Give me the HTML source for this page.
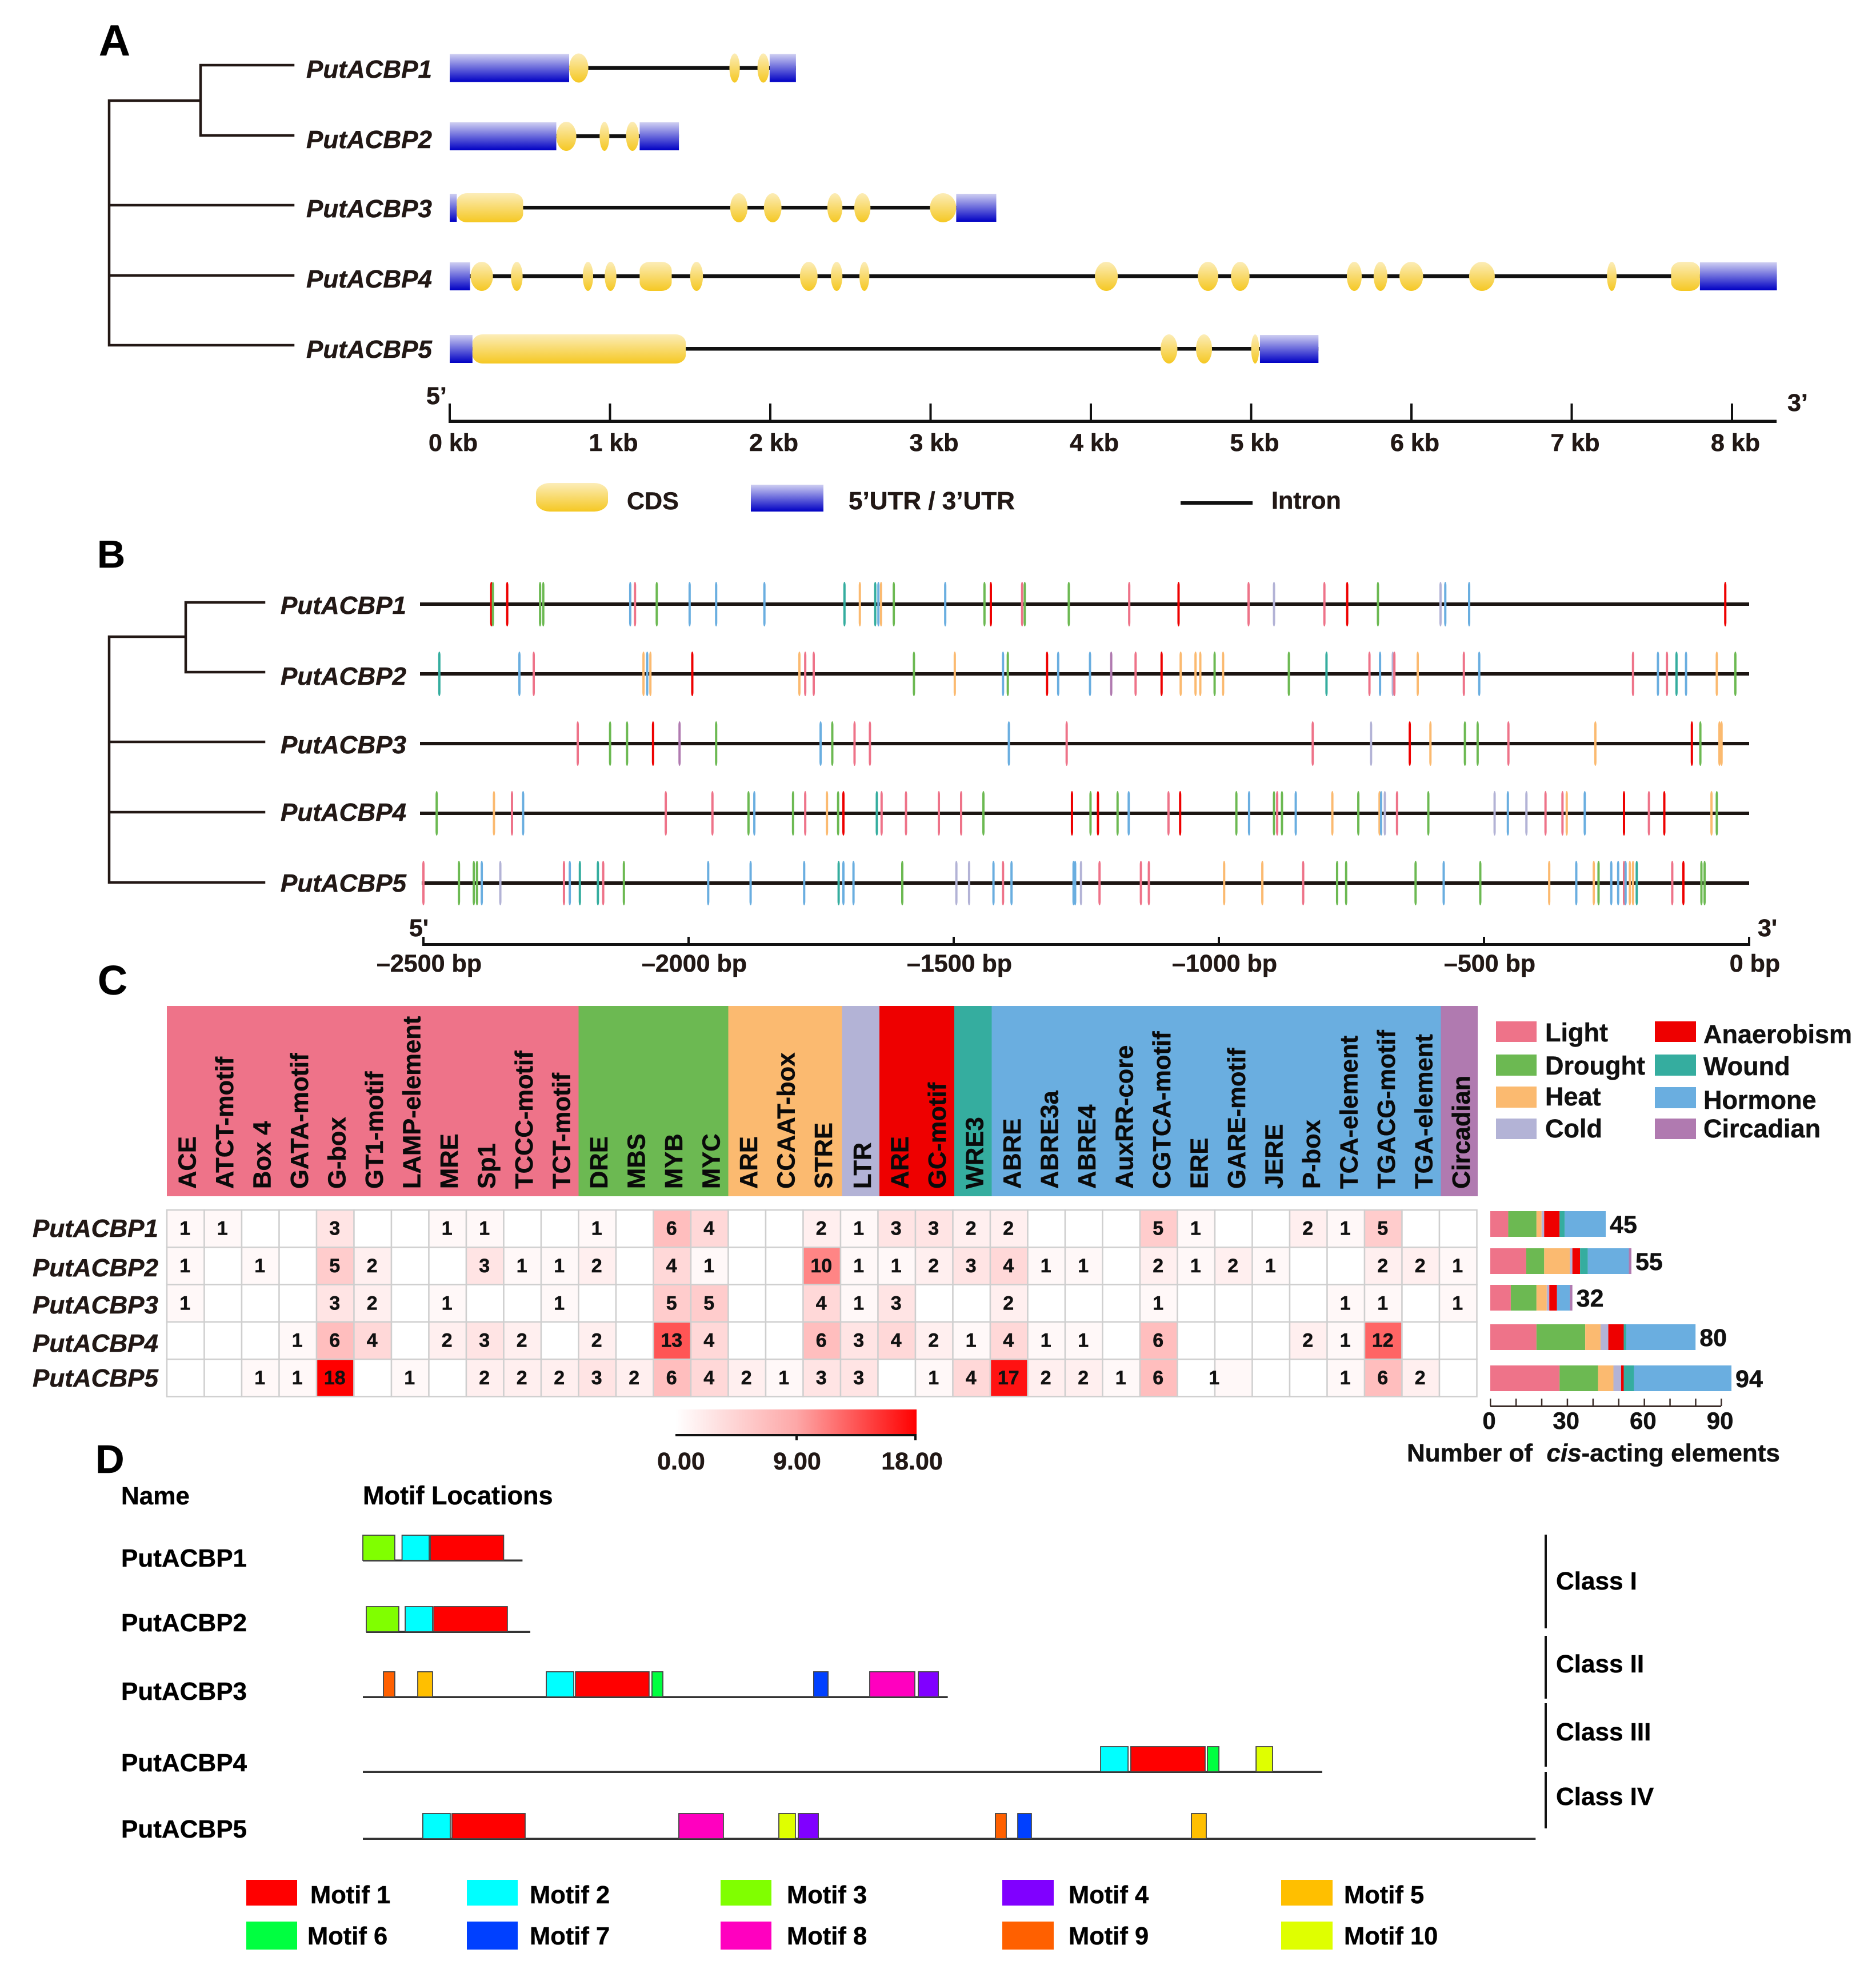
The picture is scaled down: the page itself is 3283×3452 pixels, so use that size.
<!DOCTYPE html>
<html lang="en">
<head>
<meta charset="utf-8">
<title>PutACBP gene family figure</title>
<style>
html,body{margin:0;padding:0;background:#fff;}
svg{display:block;font-family:"Liberation Sans",Arial,sans-serif;font-weight:bold;fill:#111;}
svg text{stroke:#111;stroke-width:.5px;}
.nm{font-size:44px;font-style:italic;fill:#231815;}
.ax{font-size:43px;fill:#231815;}
.lg{font-size:45px;}
.mo{font-size:43.5px;fill:#000;}
.na{font-size:44px;fill:#000;}
.tr{fill:none;stroke:#231815;stroke-width:4.5;stroke-linecap:square;}
</style>
</head>
<body>
<svg id="figure" xmlns="http://www.w3.org/2000/svg" width="3283" height="3452" viewBox="0 0 3283 3452">
<defs>
<linearGradient id="cdsGrad" x1="0" y1="0" x2="0" y2="1"><stop offset="0" stop-color="#fcedb8"/><stop offset="1" stop-color="#f5c823"/></linearGradient>
<linearGradient id="utrGrad" x1="0" y1="0" x2="0" y2="1"><stop offset="0" stop-color="#cfcff2"/><stop offset="1" stop-color="#0000c4"/></linearGradient>
<linearGradient id="heatGrad" x1="0" y1="0" x2="1" y2="0"><stop offset="0" stop-color="#ffffff"/><stop offset="0.5" stop-color="#fda8a8"/><stop offset="1" stop-color="#ff0000"/></linearGradient>
</defs>
<rect x="0" y="0" width="3283" height="3452" fill="#fff"/>

<!-- Panel A -->
<text x="173" y="97" font-size="76" fill="#000">A</text>
<path class="tr" d="M191 176V604M191 176H351M351 114V237M351 114H513M351 237H513M191 359H513M191 482H513M191 604H513"/>
<text class="nm" x="536" y="136">PutACBP1</text>
<text class="nm" x="536" y="259">PutACBP2</text>
<text class="nm" x="536" y="380">PutACBP3</text>
<text class="nm" x="536" y="503">PutACBP4</text>
<text class="nm" x="536" y="626">PutACBP5</text>
<g id="gene-row-0" transform="translate(0,118.5)"></g>
<g id="gene-row-1" transform="translate(0,238)"></g>
<g id="gene-row-2" transform="translate(0,363)"></g>
<g id="gene-row-3" transform="translate(0,483)"></g>
<g id="gene-row-4" transform="translate(0,610)"></g>
<g id="kb-axis"></g>
<text class="ax" x="746" y="707">5’</text>
<text class="ax" x="3128" y="719">3’</text>
<rect x="938" y="845" width="126" height="50" rx="24" ry="18" fill="url(#cdsGrad)"/>
<text class="ax" x="1097" y="891">CDS</text>
<rect x="1314" y="848" width="127" height="47" fill="url(#utrGrad)"/>
<text class="ax" x="1485" y="891" font-size="44" style="font-size:44px">5’UTR / 3’UTR</text>
<rect x="2066" y="877" width="126" height="6" fill="#111"/>
<text class="ax" x="2225" y="890">Intron</text>

<!-- Panel B -->
<text x="170" y="993" font-size="68" fill="#000">B</text>
<path class="tr" d="M191 1114V1544M191 1114H325M325 1054V1176M325 1054H462M325 1176H462M191 1298H462M191 1421H462M191 1544H462"/>
<text class="nm" x="491" y="1074">PutACBP1</text>
<text class="nm" x="491" y="1198">PutACBP2</text>
<text class="nm" x="491" y="1318">PutACBP3</text>
<text class="nm" x="491" y="1436">PutACBP4</text>
<text class="nm" x="491" y="1560">PutACBP5</text>
<g id="promoter-rows"></g>
<g id="bp-axis"></g>
<text class="ax" x="716" y="1638">5'</text>
<text class="ax" x="3076" y="1638">3'</text>

<!-- Panel C -->
<text x="171" y="1740" font-size="72" fill="#000">C</text>
<g id="heat-header"></g>
<g id="heatmap"></g>
<text class="nm" x="277" y="2164" text-anchor="end">PutACBP1</text>
<text class="nm" x="277" y="2233" text-anchor="end">PutACBP2</text>
<text class="nm" x="277" y="2298" text-anchor="end">PutACBP3</text>
<text class="nm" x="277" y="2365" text-anchor="end">PutACBP4</text>
<text class="nm" x="277" y="2426" text-anchor="end">PutACBP5</text>

<g>
<rect x="2618" y="1787" width="71" height="36" fill="#ee7389"/>
<text class="lg" x="2704" y="1822">Light</text>
<rect x="2618" y="1845" width="71" height="37" fill="#6cb952"/>
<text class="lg" x="2704" y="1880">Drought</text>
<rect x="2618" y="1901" width="71" height="37" fill="#fbba70"/>
<text class="lg" x="2704" y="1934">Heat</text>
<rect x="2618" y="1957" width="71" height="36" fill="#b3b3d6"/>
<text class="lg" x="2704" y="1990">Cold</text>
<rect x="2896" y="1787" width="72" height="36" fill="#ee0000"/>
<text class="lg" x="2981" y="1825">Anaerobism</text>
<rect x="2896" y="1845" width="72" height="37" fill="#35ad9f"/>
<text class="lg" x="2981" y="1881">Wound</text>
<rect x="2896" y="1902" width="72" height="37" fill="#6aaee0"/>
<text class="lg" x="2981" y="1940">Hormone</text>
<rect x="2896" y="1957" width="72" height="36" fill="#b07ab0"/>
<text class="lg" x="2981" y="1990">Circadian</text>
</g>

<g id="bar-row-0" transform="translate(2608,2119)"></g>
<g id="bar-row-1" transform="translate(2608,2184)"></g>
<g id="bar-row-2" transform="translate(2608,2248)"></g>
<g id="bar-row-3" transform="translate(2608,2317)"></g>
<g id="bar-row-4" transform="translate(2608,2389)"></g>
<g id="bar-axis"></g>
<text x="2462" y="2557" font-size="44" fill="#111" xml:space="preserve">Number of  <tspan font-style="italic">cis</tspan>-acting elements</text>

<rect x="1182" y="2466" width="422" height="43" fill="url(#heatGrad)"/>
<path d="M1182 2511H1604M1394 2511V2520M1602 2511V2520" stroke="#111" stroke-width="4" fill="none"/>
<text class="ax" x="1192" y="2571" text-anchor="middle">0.00</text>
<text class="ax" x="1395" y="2571" text-anchor="middle">9.00</text>
<text class="ax" x="1596" y="2571" text-anchor="middle">18.00</text>

<!-- Panel D -->
<text x="167" y="2577" font-size="70" fill="#000">D</text>
<text class="na" x="212" y="2632">Name</text>
<text class="na" x="635" y="2632" style="font-size:45px">Motif Locations</text>
<text class="na" x="212" y="2741">PutACBP1</text>
<text class="na" x="212" y="2854">PutACBP2</text>
<text class="na" x="212" y="2974">PutACBP3</text>
<text class="na" x="212" y="3099">PutACBP4</text>
<text class="na" x="212" y="3215">PutACBP5</text>
<g id="motif-row-0" transform="translate(635,2730)"></g>
<g id="motif-row-1" transform="translate(641,2855)"></g>
<g id="motif-row-2" transform="translate(635,2969)"></g>
<g id="motif-row-3" transform="translate(635,3100)"></g>
<g id="motif-row-4" transform="translate(635,3217)"></g>

<rect x="2703" y="2685" width="4" height="164" fill="#111"/>
<rect x="2703" y="2862" width="4" height="110" fill="#111"/>
<rect x="2703" y="2980" width="4" height="111" fill="#111"/>
<rect x="2703" y="3100" width="4" height="99" fill="#111"/>
<text class="na" x="2723" y="2781">Class I</text>
<text class="na" x="2723" y="2926">Class II</text>
<text class="na" x="2723" y="3045">Class III</text>
<text class="na" x="2723" y="3158">Class IV</text>

<g>
<rect x="431" y="3289" width="89" height="45" fill="#ff0000"/>
<text class="mo" x="543" y="3330">Motif 1</text>
<rect x="431" y="3362" width="89" height="49" fill="#00ff40"/>
<text class="mo" x="538" y="3402">Motif 6</text>
<rect x="817" y="3289" width="89" height="45" fill="#00ffff"/>
<text class="mo" x="927" y="3330">Motif 2</text>
<rect x="817" y="3362" width="89" height="49" fill="#0040ff"/>
<text class="mo" x="927" y="3402">Motif 7</text>
<rect x="1261" y="3289" width="89" height="45" fill="#80ff00"/>
<text class="mo" x="1377" y="3330">Motif 3</text>
<rect x="1261" y="3362" width="89" height="49" fill="#ff00bf"/>
<text class="mo" x="1377" y="3402">Motif 8</text>
<rect x="1754" y="3289" width="90" height="45" fill="#8000ff"/>
<text class="mo" x="1870" y="3330">Motif 4</text>
<rect x="1754" y="3362" width="90" height="49" fill="#ff6000"/>
<text class="mo" x="1870" y="3402">Motif 9</text>
<rect x="2242" y="3289" width="90" height="45" fill="#ffbf00"/>
<text class="mo" x="2352" y="3330">Motif 5</text>
<rect x="2242" y="3362" width="90" height="49" fill="#dfff00"/>
<text class="mo" x="2352" y="3402">Motif 10</text>
</g>
</svg>

<script>
// ---------- Panel A data (kb) ----------
const geneLengthsKb = [2.16, 1.43, 3.41, 8.28, 5.42];
const utrKb = [
  [[0,.745],[1.996,2.16]],
  [[0,.665],[1.185,1.43]],
  [[0,.044],[3.16,3.41]],
  [[0,.127],[7.80,8.28]],
  [[0,.142],[5.055,5.42]]
];
const cdsKb = [
  [[.745,.865],[1.745,1.81],[1.92,1.993]],
  [[.665,.79],[.935,.996],[1.10,1.18]],
  [[.044,.458],[1.75,1.858],[1.96,2.07],[2.356,2.45],[2.524,2.625],[2.996,3.16]],
  [[.13,.27],[.382,.455],[.83,.895],[.967,1.04],[1.185,1.385],[1.50,1.58],[2.185,2.295],[2.378,2.45],[2.556,2.618],[4.025,4.168],[4.667,4.795],[4.874,4.99],[5.597,5.69],[5.764,5.85],[5.925,6.073],[6.36,6.52],[7.22,7.28],[7.62,7.80]],
  [[.142,1.473],[4.435,4.54],[4.656,4.756],[5.0,5.05]]
];
const kbTicks = [0,1,2,3,4,5,6,7,8];

// ---------- Panel B data (bp upstream, type code per site) ----------
const promoterSites = [
  [-2372,-2369,-2342,-2280,-2274,-2110,-2101,-2060,-1998,-1948,-1857,-1706,-1677,-1648,-1642,-1637,-1613,-1516,-1442,-1430,-1371,-1366,-1283,-1169,-1076,-944,-896,-801,-758,-700,-582,-573,-528,-45],
  [-2470,-2319,-2292,-2085,-2078,-2072,-1993,-1791,-1780,-1764,-1575,-1498,-1407,-1398,-1324,-1303,-1243,-1203,-1157,-1108,-1072,-1044,-1035,-1008,-992,-868,-797,-716,-696,-672,-669,-625,-538,-509,-219,-172,-155,-137,-119,-61,-26],
  [-2209,-2148,-2116,-2067,-2017,-1948,-1751,-1729,-1687,-1658,-1396,-1287,-823,-713,-640,-601,-536,-512,-454,-290,-108,-92,-56,-52],
  [-2475,-2367,-2333,-2312,-2043,-1955,-1887,-1876,-1803,-1780,-1739,-1718,-1708,-1645,-1636,-1590,-1528,-1486,-1444,-1277,-1242,-1228,-1191,-1170,-1095,-1073,-967,-943,-896,-890,-881,-855,-786,-737,-697,-694,-687,-664,-605,-480,-455,-420,-384,-352,-344,-310,-236,-189,-160,-71,-61],
  [-2500,-2433,-2405,-2399,-2390,-2355,-2235,-2224,-2205,-2171,-2161,-2122,-1963,-1883,-1782,-1717,-1708,-1689,-1597,-1495,-1471,-1425,-1407,-1391,-1274,-1271,-1260,-1225,-1147,-1132,-990,-918,-841,-777,-760,-629,-576,-507,-377,-326,-293,-284,-260,-247,-236,-233,-225,-219,-212,-145,-124,-90,-84]
];
const promoterTypes = [
  "ADADDOLDOOOWHWOHDODALDDLALCLADCOOA",
  "WOLHOHAHLLDHODAOORLAHHHDHDWLOCLHLOLOLWOHD",
  "LDDARDODLLOLLCAHDDLHADHH",
  "DHLOLLDODLHDAWLLLLDADADOLADODLDOHDHOCLDCOCLLHOALAHD",
  "LDDDOCLOWWLDOOOWOODCCOLOOOCLLLHHLDDDODHOHDOOLOHHWLADD"
];
const categoryCodes = ["L","D","H","C","A","W","O","R"];
const categoryColors = ["#ee7389","#6cb952","#fbba70","#b3b3d6","#ee0000","#35ad9f","#6aaee0","#b07ab0"];
const bpTicks = [-2500,-2000,-1500,-1000,-500,0];
const bpTickLabels = ["–2500 bp","–2000 bp","–1500 bp","–1000 bp","–500 bp","0 bp"];

// ---------- Panel C data ----------
const elementNames = ["ACE","ATCT-motif","Box 4","GATA-motif","G-box","GT1-motif","LAMP-element","MRE","Sp1","TCCC-motif","TCT-motif","DRE","MBS","MYB","MYC","ARE","CCAAT-box","STRE","LTR","ARE","GC-motif","WRE3","ABRE","ABRE3a","ABRE4","AuxRR-core","CGTCA-motif","ERE","GARE-motif","JERE","P-box","TCA-element","TGACG-motif","TGA-element","Circadian"];
const elementCategories = "LLLLLLLLLLLDDDDHHHCAAWOOOOOOOOOOOOR";
const elementCounts = [
  [1,1,0,0,3,0,0,1,1,0,0,1,0,6,4,0,0,2,1,3,3,2,2,0,0,0,5,1,0,0,2,1,5,0,0],
  [1,0,1,0,5,2,0,0,3,1,1,2,0,4,1,0,0,10,1,1,2,3,4,1,1,0,2,1,2,1,0,0,2,2,1],
  [1,0,0,0,3,2,0,1,0,0,1,0,0,5,5,0,0,4,1,3,0,0,2,0,0,0,1,0,0,0,0,1,1,0,1],
  [0,0,0,1,6,4,0,2,3,2,0,2,0,13,4,0,0,6,3,4,2,1,4,1,1,0,6,0,0,0,2,1,12,0,0],
  [0,0,1,1,18,0,1,0,2,2,2,3,2,6,4,2,1,3,3,0,1,4,17,2,2,1,6,0,1,0,0,1,6,2,0]
];
const barTicks = [0,10,20,30,40,50,60,70,80,90];
const barTickLabels = ["0","","","30","","","60","","","90"];

// ---------- Panel D data (amino-acid positions) ----------
const proteinLengths = [110,113,403,661,808];
const motifIds = [
  [3,2,1],
  [3,2,1],
  [9,5,2,1,6,7,8,4],
  [2,1,6,10],
  [2,1,8,10,4,9,7,5]
];
const motifStarts = [
  [0,27,46.5],
  [0,26.8,46.5],
  [14.2,37.8,126.4,146.5,199.2,310.6,349.2,382.7],
  [508.3,529.1,581.9,615.4],
  [41.3,61.4,217.7,286.6,300,435.8,451.2,570.9]
];
const motifEnds = [
  [22,45.7,97],
  [22.4,45.7,97.2],
  [22,48,145.3,197.2,206.7,320.5,380.3,396.5],
  [527.2,580.3,589.8,626.8],
  [60.2,111.8,248.4,298,313.8,443.3,460.6,581.1]
];
const motifColors = {1:"#ff0000",2:"#00ffff",3:"#80ff00",4:"#8000ff",5:"#ffbf00",6:"#00ff40",7:"#0040ff",8:"#ff00bf",9:"#ff6000",10:"#dfff00"};

// ---------- helpers ----------
const NS = "http://www.w3.org/2000/svg";
function mk(parent, tag, attrs, text) {
  const el = document.createElementNS(NS, tag);
  for (const k in attrs) el.setAttribute(k, attrs[k]);
  if (text !== undefined) el.textContent = text;
  parent.appendChild(el);
  return el;
}
const xKb = kb => 787 + 280.5 * kb;
const xBp = bp => 3061 + 0.928 * bp;
const xBar = n => 4.49 * n;
const xAa = aa => 2.54 * aa;
const heatColor = v => {
  const g = Math.round(255 * (1 - Math.pow(v / 18, 1.25)));
  return "rgb(255," + g + "," + g + ")";
};
const $ = id => document.getElementById(id);

// ---------- Panel A ----------
geneLengthsKb.forEach((len, i) => {
  const g = $("gene-row-" + i);
  const intron = mk(g, "rect", {x: xKb(0), y: -3, width: xKb(len) - xKb(0), height: 6.5, fill: "#111"});
  
  
  utrKb[i].forEach(s => {
    const r = mk(g, "rect", {x: xKb(s[0]), y: -24, width: xKb(s[1]) - xKb(s[0]), height: 49, fill: "url(#utrGrad)"});
    
    
  });
  cdsKb[i].forEach(s => {
    const w = xKb(s[1]) - xKb(s[0]);
    const wide = w > 50;
    const r = mk(g, "rect", {x: xKb(s[0]), y: -25, width: w, height: 51, rx: wide ? 18 : w / 2, ry: wide ? 15 : 25.5, fill: "url(#cdsGrad)"});
    
    
  });
});
(function () {
  const g = $("kb-axis");
  const line = mk(g, "rect", {x: xKb(0) - 2, y: 734.5, width: 3109 - xKb(0) + 2, height: 5.5, fill: "#111"});
  
  
  kbTicks.forEach(t => {
    const tick = mk(g, "rect", {x: xKb(t) - 2, y: 706, width: 4, height: 30, fill: "#111"});
    
    
    const lab = mk(g, "text", {x: xKb(t) + 6, y: 789, "text-anchor": "middle", "font-size": 43, fill: "#231815"}, t + " kb");
    
    
  });
})();

// ---------- Panel B ----------
promoterSites.forEach((sites, i) => {
  const g = $("promoter-rows");
  const y = 1057 + 122 * i;
  const line = mk(g, "rect", {x: i === 4 ? 738 : 735, y: y - 3, width: 3061 - (i === 4 ? 738 : 735), height: 6, fill: "#1c1512"});
  
  
  sites.forEach((bp, j) => {
    const c = categoryCodes.indexOf(promoterTypes[i][j]);
    const m = mk(g, "rect", {x: xBp(bp) - 2, y: y - 39, width: 4, height: 78, rx: 2, ry: 7, fill: categoryColors[c < 0 ? 0 : c]});
    
    
  });
});
(function () {
  const g = $("bp-axis");
  const line = mk(g, "rect", {x: xBp(-2500) - 2, y: 1650, width: xBp(0) - xBp(-2500) + 4, height: 5, fill: "#111"});
  
  
  bpTicks.forEach((t, i) => {
    const tick = mk(g, "rect", {x: xBp(t) - 2, y: 1639, width: 4, height: 13, fill: "#111"});
    
    
    const lab = mk(g, "text", {x: xBp(t) + 10, y: 1700, "text-anchor": "middle", "font-size": 43, fill: "#231815"}, bpTickLabels[i]);
    
    
  });
})();

// ---------- Panel C ----------
const colW = 65.5, rowH = 65.3, heatLeft = 292, heatTop = 2117;
const bandX = j => heatLeft + j * colW + (j >= 18 && j < 35 ? 2.5 : 0);
elementNames.forEach((name, j) => {
  const g = $("heat-header");
  const c = categoryCodes.indexOf(elementCategories[j]);
  const x = bandX(j);
  const band = mk(g, "rect", {x: x, y: 1760, width: (j === 34 ? 2586 - x : bandX(j + 1) - x + 0.6), height: 333, fill: categoryColors[c]});
  
  
});
elementNames.forEach((name, j) => {
  const g = $("heat-header");
  const x = bandX(j) + 50.5;
  const t = mk(g, "text", {transform: "translate(" + x + ",2080) rotate(-90)", "font-size": 43.5, fill: "#0a0a0a"}, name);
  
  
});
elementCounts.forEach((row, i) => {
  const g = $("heatmap");
  row.forEach((v, j) => {
    const x = heatLeft + j * colW, y = heatTop + i * rowH;
    const cell = mk(g, "rect", {x: x, y: y, width: colW, height: rowH, fill: v ? heatColor(v) : "#fff", stroke: "#cfcfcf", "stroke-width": 2.5});
    
    
  });
});
elementCounts.forEach((row, i) => {
  const g = $("heatmap");
  row.forEach((v, j) => {
    if (!v) return;
    const nudge = (i === 4 && j === 28) ? -33 : 0;
    const t = mk(g, "text", {x: heatLeft + (j + 0.5) * colW - 1 + nudge, y: heatTop + (i + 0.5) * rowH + 11, "text-anchor": "middle", "font-size": 34, fill: "#111"}, v);
    
    
  });
});
elementCounts.forEach((row, i) => {
  const g = $("bar-row-" + i);
  let sum = 0;
  categoryCodes.forEach((code, c) => {
    let n = 0;
    row.forEach((v, j) => { if (elementCategories[j] === code) n += v; });
    if (!n) return;
    const seg = mk(g, "rect", {x: xBar(sum), y: 0, width: xBar(n), height: 45, fill: categoryColors[c]});
    
    
    sum += n;
  });
  const lab = mk(g, "text", {x: xBar(sum) + 7, y: 38, "font-size": 43, fill: "#111"}, sum);
  
  
});
(function () {
  const g = $("bar-axis");
  const base = 2608;
  const line = mk(g, "rect", {x: base, y: 2459, width: xBar(90), height: 3, fill: "#3a2c28"});
  
  
  barTicks.forEach((t, i) => {
    const tick = mk(g, "rect", {x: base + xBar(t) - 1, y: 2447, width: 2.5, height: 13, fill: "#3a2c28"});
    
    
    if (barTickLabels[i]) {
      const lab = mk(g, "text", {x: base + xBar(t) - 2, y: 2500, "text-anchor": "middle", "font-size": 42, fill: "#111"}, barTickLabels[i]);
      
      
    }
  });
})();

// ---------- Panel D ----------
proteinLengths.forEach((len, i) => {
  const g = $("motif-row-" + i);
  const base = mk(g, "rect", {x: 0, y: -1.5, width: xAa(len), height: 3.5, fill: "#333"});
  
  
  motifIds[i].forEach((id, j) => {
    const r = mk(g, "rect", {x: xAa(motifStarts[i][j]), y: -44, width: xAa(motifEnds[i][j] - motifStarts[i][j]), height: 44, fill: motifColors[id], stroke: "#444", "stroke-width": 1.8});
    
    
  });
});
</script>
</body>
</html>
